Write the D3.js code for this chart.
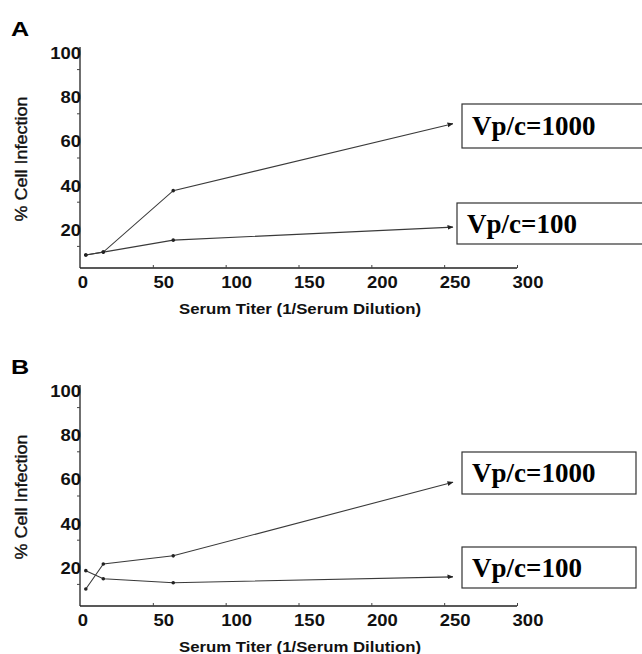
<!DOCTYPE html>
<html lang="en">
<head>
<meta charset="UTF-8">
<title>Serum titer vs cell infection</title>
<script src="https://cdn.jsdelivr.net/npm/d3@7"></script>
<style>
  body { margin: 0; background: #fff; }
  svg { display: block; }
  .tick-label { font-family: "Liberation Sans", Arial, sans-serif; font-size: 16.5px; font-weight: bold; fill: #111; }
  .axis-title { font-family: "Liberation Sans", Arial, sans-serif; font-size: 15px; font-weight: bold; fill: #111; }
  .panel-letter { font-family: "Liberation Sans", Arial, sans-serif; font-size: 21px; font-weight: bold; fill: #000; }
  .series { fill: none; stroke: #3a3a3a; stroke-width: 1.1px; }
  .box { fill: #fff; stroke: #333; stroke-width: 1.2px; }
  .box-label { font-family: "Liberation Serif", "Times New Roman", serif; font-size: 27px; font-weight: bold; fill: #000; }
</style>
</head>
<body>
<svg id="main" width="642" height="654"></svg>
<script>
// serum titers (1/dilution)
var titers = [4, 16, 64, 256];

// panel A
var panelA_vp1000 = [5.9, 7.2, 35, 65.3];
var panelA_vp100 = [5.9, 7.2, 12.6, 18.5];

// panel B
var panelB_vp1000 = [7.7, 19, 22.7, 56];
var panelB_vp100 = [16, 12.3, 10.5, 13.2];

var xTickValues = [0, 50, 100, 150, 200, 250, 300];
var yTickLabels = [20, 40, 60, 80, 100];
var yTickMarks = [10, 30, 50, 70, 90];
var seriesNames = ["Vp/c=1000", "Vp/c=100"];

var svg = d3.select("#main");

svg.append("defs").append("marker")
    .attr("id", "arrow")
    .attr("viewBox", "0 0 10 10")
    .attr("refX", 9).attr("refY", 5)
    .attr("markerWidth", 6).attr("markerHeight", 6)
    .attr("markerUnits", "userSpaceOnUse")
    .attr("orient", "auto")
  .append("path")
    .attr("d", "M0,1 L10,5 L0,9 Z")
    .attr("fill", "#222");

function drawPanel(top, letter, vp1000, vp100, boxes) {
    var g = svg.append("g");
    var x = d3.scaleLinear().domain([0, 300]).range([80, 517]);
    var y = d3.scaleLinear().domain([0, 100]).range([top + 221, top]);

    // panel letter (scan is a bit wide)
    g.append("text").attr("class", "panel-letter")
        .attr("transform", "translate(11," + (top - 11) + ") scale(1.2,1)")
        .text(letter);

    // y axis: line + minor ticks, labels drawn separately
    var yAxis = d3.axisLeft(y).tickValues(yTickMarks).tickSize(3).tickFormat("");
    var ya = g.append("g").attr("transform", "translate(80,0)").call(yAxis);
    ya.select(".domain").attr("stroke", "#222").attr("stroke-width", 1.3).attr("d", "M0," + y(0) + "V" + y(100));
    ya.selectAll(".tick line").attr("stroke", "#444");

    g.selectAll(".ylab").data(yTickLabels).enter().append("text")
        .attr("class", "tick-label")
        .attr("transform", function(d) { return "translate(81," + (y(d) + 12) + ") scale(1.12,1)"; })
        .attr("text-anchor", "end")
        .text(function(d) { return d; });

    // x axis
    var xAxis = d3.axisBottom(x).tickValues(xTickValues.slice(1)).tickSize(-3).tickFormat("");
    var xa = g.append("g").attr("transform", "translate(0," + y(0) + ")").call(xAxis);
    xa.select(".domain").attr("stroke", "#222").attr("stroke-width", 1.3).attr("d", "M" + x(0) + ",0H" + x(300));
    xa.selectAll(".tick line").attr("stroke", "#444");

    g.selectAll(".xlab").data(xTickValues).enter().append("text")
        .attr("class", "tick-label")
        .attr("transform", function(d) {
            return "translate(" + (x(d) + (d === 0 ? 3 : 11)) + "," + (y(0) + 20) + ") scale(1.12,1)";
        })
        .attr("text-anchor", "middle")
        .text(function(d) { return d; });

    // axis titles
    g.append("text").attr("class", "axis-title")
        .attr("x", 300).attr("y", y(0) + 46)
        .attr("text-anchor", "middle")
        .attr("textLength", 242).attr("lengthAdjust", "spacingAndGlyphs")
        .text("Serum Titer (1/Serum Dilution)");

    g.append("text").attr("class", "axis-title")
        .attr("transform", "translate(27," + (top + 112) + ") rotate(-90)")
        .attr("text-anchor", "middle")
        .attr("textLength", 125).attr("lengthAdjust", "spacingAndGlyphs")
        .style("font-size", "16px").style("font-weight", "normal")
        .style("stroke", "#111").style("stroke-width", 0.35)
        .text("% Cell Infection");

    var line = d3.line()
        .x(function(d) { return x(d[0]); })
        .y(function(d) { return y(d[1]); });

    [vp1000, vp100].forEach(function(vals, si) {
        var pts = titers.map(function(t, i) { return [t, vals[i]]; });
        g.append("path").attr("class", "series")
            .attr("d", line(pts))
            .attr("marker-end", "url(#arrow)");
        g.selectAll(".dot" + si).data(pts.slice(0, 3)).enter().append("circle")
            .attr("cx", function(d) { return x(d[0]); })
            .attr("cy", function(d) { return y(d[1]); })
            .attr("r", 1.8).attr("fill", "#222");

        var b = boxes[si];
        g.append("rect").attr("class", "box")
            .attr("x", b[0]).attr("y", b[1]).attr("width", b[2]).attr("height", b[3]);
        g.append("text").attr("class", "box-label")
            .attr("x", b[0] + 10).attr("y", b[1] + b[3] / 2 + 9)
            .text(seriesNames[si]);
    });
}

drawPanel(47, "A", panelA_vp1000, panelA_vp100, [[462, 104, 190, 44], [457, 203, 195, 41]]);
drawPanel(385, "B", panelB_vp1000, panelB_vp100, [[462, 452, 174, 42], [462, 547, 174, 41]]);
</script>
</body>
</html>
